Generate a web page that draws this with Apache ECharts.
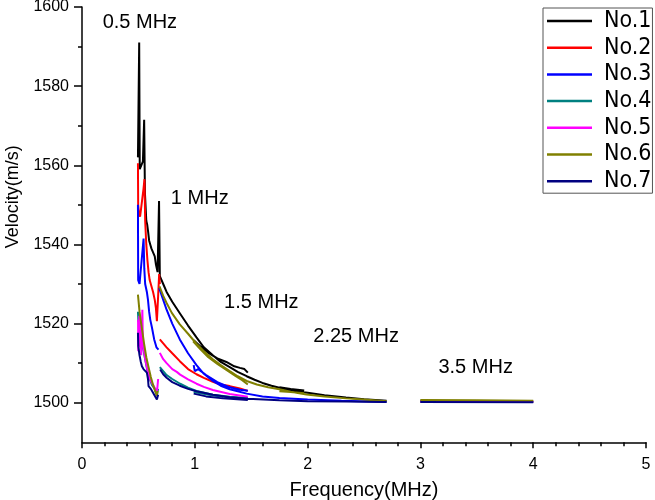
<!DOCTYPE html>
<html><head><meta charset="utf-8">
<script src="https://cdn.jsdelivr.net/npm/echarts@6/dist/echarts.min.js"></script>
<style>html,body{margin:0;padding:0;background:#fff}#c{width:655px;height:500px}</style>
</head><body><div id="c"></div>
<script>
const seriesNames = ['No.1','No.2','No.3','No.4','No.5','No.6','No.7'];
const seriesColors = ['#000000','#ff0000','#0000ff','#008080','#ff00ff','#808000','#000080'];
const xTicks = [0,1,2,3,4,5];
const yTicks = [1500,1520,1540,1560,1580,1600];
const yMinorTicks = [1510,1530,1550,1570,1590];
const annotTexts = ['0.5 MHz','1 MHz','1.5 MHz','2.25 MHz','3.5 MHz'];
const annotX = [0.513,1.044,1.59,2.43,3.49];
const annotY = [1596.1,1551.7,1525.4,1516.8,1509.0];

const no1 = [
 [[0.496,1562],[0.507,1591],[0.512,1559],[0.540,1561],[0.551,1571.5],[0.558,1553],[0.570,1546],[0.578,1545],[0.585,1543.5],[0.595,1541],[0.605,1540],[0.615,1539],[0.63,1538.5],[0.645,1537],[0.655,1535],[0.67,1533],[0.683,1551],[0.69,1532],
  [0.72,1530],[0.75,1528],[0.80,1525.5],[0.87,1522.5],[0.94,1519.5],[1.015,1516.5],[1.08,1514],[1.16,1512],[1.23,1510.3],[1.31,1509],[1.38,1507.8],[1.46,1506.7],[1.53,1505.8],[1.60,1505],[1.68,1504.3],[1.75,1503.8],[1.85,1503.1],[2.0,1502.5],[2.15,1501.9],[2.34,1501.3],[2.5,1500.9],[2.70,1500.5]],
 [[0.99,1515.8],[1.05,1514.2],[1.12,1512.6],[1.2,1511.2],[1.28,1510.3],[1.35,1509.2],[1.4,1508.8],[1.44,1508.5],[1.47,1507.6]],
 [[1.75,1503.9],[1.85,1503.5],[1.97,1503.1]],
 [[3.0,1500.5],[3.5,1500.4],[4.0,1500.3]]
];
const no2 = [
 [[0.496,1560.5],[0.498,1550],[0.505,1548],[0.515,1547],[0.545,1554],[0.554,1556.5],[0.56,1546],[0.57,1540],[0.58,1536],[0.59,1533],[0.60,1531],[0.615,1529.5],[0.63,1528],[0.645,1526],[0.655,1524],[0.664,1520.6],[0.675,1527],[0.684,1532.5],[0.69,1530]],
 [[0.69,1516],[0.72,1515],[0.75,1514],[0.80,1512.5],[0.867,1510.5],[0.94,1508.5],[1.015,1507.2],[1.08,1506.3],[1.16,1505.3],[1.23,1504.6],[1.31,1504.2],[1.4,1503.6],[1.47,1503]],
 [[3.0,1500.4],[4.0,1500.3]]
];
const no3 = [
 [[0.496,1550],[0.498,1531],[0.51,1530],[0.52,1530],[0.546,1541.5],[0.552,1534],[0.56,1530],[0.575,1528],[0.585,1526],[0.595,1523],[0.605,1521],[0.62,1519],[0.64,1516],[0.66,1514],[0.678,1513.4]],
 [[0.684,1529],[0.72,1526],[0.75,1523.5],[0.80,1520],[0.867,1516],[0.94,1512.5],[1.015,1509.5],[1.08,1507.3],[1.16,1505.5],[1.23,1504.3],[1.31,1503.4],[1.46,1502.3],[1.6,1501.6],[1.75,1501.2],[2.0,1500.8],[2.3,1500.5],[2.7,1500.2]],
 [[0.99,1509.5],[1.0,1508],[1.03,1508.5],[1.1,1507],[1.2,1505.2],[1.3,1504],[1.4,1503.3],[1.47,1503]],
 [[3.0,1500.3],[4.0,1500.2]]
];
const no4 = [
 [[0.496,1523],[0.50,1520.5],[0.51,1522],[0.52,1518],[0.54,1514],[0.56,1511],[0.58,1508],[0.60,1506],[0.62,1504.5],[0.645,1503.5],[0.664,1502],[0.675,1503.5]],
 [[0.69,1509],[0.72,1508],[0.75,1507],[0.80,1506],[0.87,1504.8],[0.94,1503.8],[1.015,1503],[1.16,1502],[1.31,1501.5],[1.47,1501.2]],
 [[0.99,1502.7],[1.05,1502.4],[1.15,1501.9],[1.25,1501.5],[1.35,1501.3],[1.47,1501.1]],
 [[3.0,1500.3],[4.0,1500.2]]
];
const no5 = [
 [[0.497,1521],[0.499,1513],[0.503,1518],[0.508,1522],[0.512,1514],[0.518,1520],[0.525,1512],[0.535,1523.5],[0.54,1515],[0.55,1513],[0.56,1511],[0.575,1509],[0.59,1507],[0.61,1505.5],[0.63,1504.5],[0.65,1503.5],[0.664,1502.5],[0.675,1506]],
 [[0.69,1512.6],[0.72,1511],[0.75,1510],[0.80,1508.5],[0.84,1507.8],[0.87,1507.1],[0.94,1505.9],[1.015,1504.8],[1.08,1504],[1.16,1503.2],[1.31,1502.2],[1.47,1501.5]],
 [[3.0,1500.3],[4.0,1500.2]]
];
const no6 = [
 [[0.496,1527.3],[0.51,1523],[0.53,1519],[0.55,1515],[0.57,1511.5],[0.59,1509],[0.61,1506.5],[0.63,1504.5],[0.65,1502.8],[0.664,1501.7],[0.67,1503]],
 [[0.687,1529.4],[0.72,1527],[0.75,1525.2],[0.796,1522.7],[0.867,1519.8],[0.944,1517.3],[1.015,1514.9],[1.08,1513],[1.16,1511],[1.23,1509.5],[1.31,1508],[1.38,1506.7],[1.46,1505.5],[1.55,1504.6],[1.65,1503.9],[1.75,1503.4],[1.85,1502.8],[1.99,1502.1],[2.15,1501.6],[2.34,1501.1],[2.5,1500.8],[2.70,1500.4]],
 [[0.985,1515.5],[1.05,1513.5],[1.12,1511.5],[1.2,1509.8],[1.28,1508.3],[1.36,1506.8],[1.42,1505.7],[1.47,1504.6]],
 [[1.75,1502.9],[1.85,1502.7],[1.97,1502.4]],
 [[3.0,1500.7],[3.5,1500.6],[4.0,1500.5]]
];
const no7 = [
 [[0.496,1517.7],[0.499,1514.3],[0.51,1512],[0.52,1510.5],[0.531,1509.2],[0.545,1508.5],[0.56,1508],[0.575,1507.6],[0.585,1506],[0.59,1504.2],[0.61,1503.5],[0.63,1502.5],[0.65,1501.5],[0.664,1500.8],[0.675,1502]],
 [[0.693,1508.4],[0.72,1507.2],[0.75,1506.3],[0.80,1505.2],[0.867,1504.3],[0.94,1503.5],[1.015,1502.9],[1.16,1502],[1.31,1501.4],[1.47,1501],[1.75,1500.6],[2.0,1500.4],[2.34,1500.3],[2.7,1500.2]],
 [[0.99,1502.3],[1.1,1501.6],[1.25,1501.1],[1.47,1500.7]],
 [[3.0,1500.2],[4.0,1500.1]]
];
const allSamples = [no1,no2,no3,no4,no5,no6,no7];

function joinSegments(segs){
  const out = [];
  segs.forEach((s,i)=>{ if(i>0) out.push(['-','-']); s.forEach(p=>out.push(p)); });
  return out;
}

const FONT = "'Liberation Sans', Arial, sans-serif";
const series = allSamples.map((segs,i)=>({
  name: seriesNames[i], type:'line', data: joinSegments(segs),
  symbol:'none', connectNulls:false, animation:false,
  lineStyle:{color:seriesColors[i], width:2}, itemStyle:{color:seriesColors[i]}
}));
series.push({
  name:'annot', type:'scatter', symbolSize:0, animation:false, silent:true,
  itemStyle:{opacity:1, color:'#000'},
  data: annotTexts.map((t,i)=>({name:t, value:[annotX[i], annotY[i]]})),
  label:{show:true, position:'inside', formatter:p=>p.name, color:'#000', opacity:1, fontSize:20, fontFamily:FONT}
});

const chart = echarts.init(document.getElementById('c'), null, {renderer:'canvas'});
chart.setOption({
  backgroundColor:'#fff',
  animation:false,
  grid:{left:82, top:7, right:9, bottom:57.7, containLabel:false, outerBoundsMode:'none'},
  legend:{
    data: seriesNames, orient:'vertical', left:543, top:8,
    padding:[1,1,0,4], itemGap:2.7, itemWidth:45, itemHeight:14,
    borderColor:'#555', borderWidth:1, borderRadius:0,
    icon:'path://M0,6 L45,6 L45,8.5 L0,8.5 Z',
    textStyle:{fontSize:23, lineHeight:24, color:'#000', fontFamily:"'Liberation Sans Narrow','DejaVu Sans Condensed', sans-serif", padding:[0,0,0,7]}
  },
  xAxis:{
    type:'value', min:0, max:5, interval:1,
    name:'Frequency(MHz)', nameLocation:'middle', nameGap:38,
    nameTextStyle:{fontSize:20, color:'#000', fontFamily:FONT},
    axisLine:{show:true, onZero:false, lineStyle:{color:'#000', width:1.5}},
    axisTick:{show:true, length:6, lineStyle:{color:'#000', width:1.5}},
    minorTick:{show:true, splitNumber:5, length:4, lineStyle:{color:'#000', width:1.5}},
    axisLabel:{fontSize:16, color:'#000', fontFamily:FONT, margin:14, formatter:v=>xTicks.includes(v)?String(v):''},
    splitLine:{show:false}
  },
  yAxis:[{
    type:'value', min:1490, max:1600,
    name:'Velocity(m/s)', nameLocation:'middle', nameGap:60,
    nameTextStyle:{fontSize:18, color:'#000', fontFamily:FONT, padding:[0,0,0,56]},
    axisLine:{show:true, onZero:false, lineStyle:{color:'#000', width:1.5}},
    axisTick:{show:true, length:8, customValues:yTicks, lineStyle:{color:'#000', width:1.5}},
    axisLabel:{fontSize:16, color:'#000', fontFamily:FONT, margin:13, customValues:yTicks, formatter:v=>String(v)},
    splitLine:{show:false}
  },{
    type:'value', min:1490, max:1600, position:'left',
    axisLine:{show:false},
    axisTick:{show:true, length:4, customValues:yMinorTicks, lineStyle:{color:'#000', width:1.5}},
    axisLabel:{show:false},
    splitLine:{show:false}
  }],
  series: series
});
</script></body></html>
